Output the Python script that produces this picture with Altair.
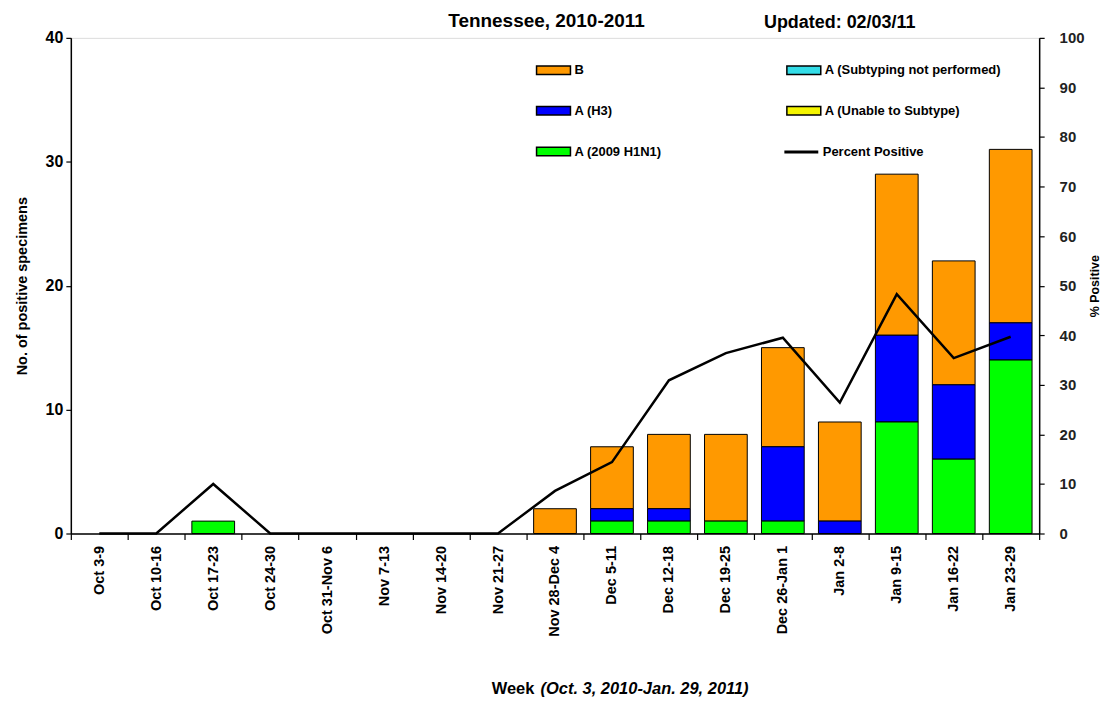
import altair as alt
import pandas as pd

FONT = "Liberation Sans"

weeks = ["Oct 3-9", "Oct 10-16", "Oct 17-23", "Oct 24-30", "Oct 31-Nov 6",
         "Nov 7-13", "Nov 14-20", "Nov 21-27", "Nov 28-Dec 4", "Dec 5-11",
         "Dec 12-18", "Dec 19-25", "Dec 26-Jan 1", "Jan 2-8", "Jan 9-15",
         "Jan 16-22", "Jan 23-29"]
b_vals = [0, 0, 0, 0, 0, 0, 0, 0, 2, 5, 6, 7, 8, 8, 13, 10, 14]
h3_vals = [0, 0, 0, 0, 0, 0, 0, 0, 0, 1, 1, 0, 6, 1, 7, 6, 3]
h1n1_vals = [0, 0, 1, 0, 0, 0, 0, 0, 0, 1, 1, 1, 1, 0, 9, 6, 14]
not_performed_vals = [0, 0, 0, 0, 0, 0, 0, 0, 0, 0, 0, 0, 0, 0, 0, 0, 0]
unable_vals = [0, 0, 0, 0, 0, 0, 0, 0, 0, 0, 0, 0, 0, 0, 0, 0, 0]
pct_positive = [0, 0, 10.0, 0, 0, 0, 0, 0, 8.6, 14.4, 30.9, 36.4, 39.5, 26.4, 48.3, 35.4, 39.7]

# legend order (column-major: B, H3, H1N1 | Subtyping, Unable)
types = ["B", "A (H3)", "A (2009 H1N1)", "A (Subtyping not performed)", "A (Unable to Subtype)"]
type_colors = ["#FF9900", "#0000FF", "#00FF00", "#33DDE8", "#F5F500"]
stack_rank = [4, 3, 0, 2, 1]
series_vals = [b_vals, h3_vals, h1n1_vals, not_performed_vals, unable_vals]

title_text = "Tennessee, 2010-2011"
updated_text = "Updated: 02/03/11"
xtitle_main = "Week"
xtitle_italic = "(Oct. 3, 2010-Jan. 29, 2011)"

rows = []
for t, rank, vals in zip(types, stack_rank, series_vals):
    for w, v in zip(weeks, vals):
        if v > 0:
            rows.append({"week": w, "type": t, "count": v, "rank": rank})
bar_df = pd.DataFrame(rows)
line_df = pd.DataFrame({"week": weeks, "pct": pct_positive, "series": "Percent Positive"})

W, H = 971, 497

xscale = alt.Scale(domain=weeks, paddingInner=0, paddingOuter=0)
xaxis = alt.Axis(title=None, labelAngle=270, labelFont=FONT, labelFontSize=14.5,
                 labelFontWeight="bold", labelColor="black", labelPadding=6,
                 tickBand="extent", tickSize=6, tickColor="black", tickWidth=1.2,
                 domainColor="black", domainWidth=1.5)

bars = alt.Chart(bar_df).mark_bar(
    width=alt.RelativeBandSize(0.75), stroke="black", strokeWidth=1
).encode(
    x=alt.X("week:N", sort=weeks, scale=xscale, axis=xaxis),
    y=alt.Y("count:Q", stack="zero",
            scale=alt.Scale(domain=[0, 40], nice=False),
            axis=alt.Axis(title="No. of positive specimens", values=[0, 10, 20, 30, 40],
                          tickSize=5, tickColor="black", tickWidth=1.2,
                          domainColor="black", domainWidth=1.5,
                          labelFont=FONT, labelFontSize=16, labelFontWeight="bold",
                          labelColor="black", labelPadding=3,
                          titleFont=FONT, titleFontSize=14.5, titleFontWeight="bold",
                          titleColor="black", titlePadding=16, grid=False)),
    color=alt.Color("type:N", scale=alt.Scale(domain=types, range=type_colors),
                    legend=alt.Legend(title=None, orient="none", legendX=466, legendY=14,
                                      columns=2, columnPadding=122, rowPadding=15,
                                      symbolType="M-1,-0.25H1V0.25H-1Z", symbolSize=1156,
                                      symbolStrokeColor="black", symbolStrokeWidth=1.5,
                                      symbolOpacity=1, labelLimit=400,
                                      labelFont=FONT, labelFontSize=13,
                                      labelFontWeight="bold", labelColor="black",
                                      labelOffset=3, padding=0)),
    order=alt.Order("rank:Q"),
)

line = alt.Chart(line_df).mark_line(strokeWidth=2.5).encode(
    x=alt.X("week:N", sort=weeks, scale=xscale, axis=xaxis),
    y=alt.Y("pct:Q", scale=alt.Scale(domain=[0, 100], nice=False),
            axis=alt.Axis(orient="right", title="% Positive",
                          values=[0, 10, 20, 30, 40, 50, 60, 70, 80, 90, 100],
                          tickSize=5, tickColor="black", tickWidth=1.2,
                          domainColor="black", domainWidth=1.5,
                          labelFont=FONT, labelFontSize=15, labelFontWeight="bold",
                          labelColor="#222222", labelPadding=15,
                          titleFont=FONT, titleFontSize=12.5, titleFontWeight="bold",
                          titleColor="black", titleAngle=270, titlePadding=17, grid=False)),
    stroke=alt.Stroke("series:N", scale=alt.Scale(range=["black"]),
                      legend=alt.Legend(title=None, orient="none", legendX=714, legendY=96,
                                        symbolType="stroke", symbolSize=1156,
                                        symbolStrokeWidth=3, labelFont=FONT,
                                        labelFontSize=13, labelFontWeight="bold",
                                        labelColor="black", labelOffset=3, padding=0)),
)

title_mark = alt.Chart(pd.DataFrame({"t": [title_text]})).mark_text(
    font=FONT, fontSize=19, fontWeight="bold", align="center", baseline="middle", color="black"
).encode(x=alt.value(477), y=alt.value(-17), text="t:N")

updated_mark = alt.Chart(pd.DataFrame({"t": [updated_text]})).mark_text(
    font=FONT, fontSize=18, fontWeight="bold", align="left", baseline="middle", color="black"
).encode(x=alt.value(695), y=alt.value(-15), text="t:N")

week_mark = alt.Chart(pd.DataFrame({"t": [xtitle_main]})).mark_text(
    font=FONT, fontSize=16.5, fontWeight="bold", align="left", baseline="middle", color="black"
).encode(x=alt.value(422), y=alt.value(653), text="t:N")

week_italic = alt.Chart(pd.DataFrame({"t": [xtitle_italic]})).mark_text(
    font=FONT, fontSize=16.5, fontWeight="bold", fontStyle="italic", align="left",
    baseline="middle", color="black"
).encode(x=alt.value(471), y=alt.value(653), text="t:N")

chart = alt.layer(bars, line, title_mark, updated_mark, week_mark, week_italic).resolve_scale(
    y="independent"
).properties(
    width=W, height=H, padding={"left": 6, "top": 3, "right": 0, "bottom": 0}
).configure_view(stroke="black", strokeWidth=1.5).configure(background="white")

chart.save("out.html", embed_options={"renderer": "svg", "actions": False})
